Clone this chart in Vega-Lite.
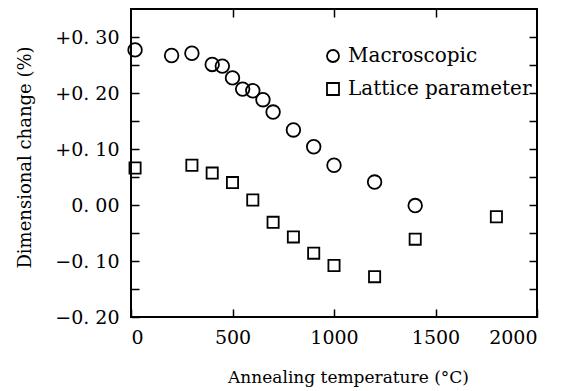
{
  "$schema": "https://vega.github.io/schema/vega-lite/v6.json",
  "autosize": {"type": "none"},
  "width": 406,
  "height": 308,
  "padding": {"left": 131, "top": 9, "right": 30, "bottom": 74},
  "background": "white",
  "config": {
    "view": {"stroke": "black", "strokeWidth": 2},
    "font": "DejaVu Serif",
    "axis": {
      "domain": false,
      "grid": false,
      "tickColor": "black",
      "tickWidth": 1.5,
      "tickSize": -8,
      "labelColor": "black",
      "labelFont": "DejaVu Serif",
      "labelFontSize": 19,
      "titleFont": "DejaVu Serif",
      "titleFontSize": 17,
      "titleFontWeight": "normal",
      "titleColor": "black"
    },
    "legend": {
      "orient": "none",
      "legendX": 192,
      "legendY": 37,
      "symbolSize": 144,
      "symbolStrokeWidth": 1.8,
      "symbolStrokeColor": "black",
      "labelFont": "DejaVu Serif",
      "labelFontSize": 20,
      "labelColor": "black",
      "labelOffset": 5,
      "labelLimit": 400,
      "rowPadding": 13
    }
  },
  "datasets": {
    "pts": [
      {"series": "Macroscopic", "temp": 20, "change": 0.277},
      {"series": "Macroscopic", "temp": 200, "change": 0.267},
      {"series": "Macroscopic", "temp": 300, "change": 0.271},
      {"series": "Macroscopic", "temp": 400, "change": 0.251},
      {"series": "Macroscopic", "temp": 450, "change": 0.248},
      {"series": "Macroscopic", "temp": 500, "change": 0.227},
      {"series": "Macroscopic", "temp": 550, "change": 0.207},
      {"series": "Macroscopic", "temp": 600, "change": 0.204},
      {"series": "Macroscopic", "temp": 650, "change": 0.188},
      {"series": "Macroscopic", "temp": 700, "change": 0.166},
      {"series": "Macroscopic", "temp": 800, "change": 0.134},
      {"series": "Macroscopic", "temp": 900, "change": 0.104},
      {"series": "Macroscopic", "temp": 1000, "change": 0.071},
      {"series": "Macroscopic", "temp": 1200, "change": 0.041},
      {"series": "Macroscopic", "temp": 1400, "change": -0.001},
      {"series": "Lattice parameter", "temp": 20, "change": 0.066},
      {"series": "Lattice parameter", "temp": 300, "change": 0.071},
      {"series": "Lattice parameter", "temp": 400, "change": 0.057},
      {"series": "Lattice parameter", "temp": 500, "change": 0.04},
      {"series": "Lattice parameter", "temp": 600, "change": 0.009},
      {"series": "Lattice parameter", "temp": 700, "change": -0.031},
      {"series": "Lattice parameter", "temp": 800, "change": -0.057},
      {"series": "Lattice parameter", "temp": 900, "change": -0.086},
      {"series": "Lattice parameter", "temp": 1000, "change": -0.108},
      {"series": "Lattice parameter", "temp": 1200, "change": -0.128},
      {"series": "Lattice parameter", "temp": 1400, "change": -0.061},
      {"series": "Lattice parameter", "temp": 1800, "change": -0.021}
    ]
  },
  "layer": [
    {
      "data": {"name": "pts"},
      "transform": [{"filter": "datum.series === 'Macroscopic'"}],
      "mark": {"type": "point", "filled": false, "color": "black", "strokeWidth": 1.8, "opacity": 1, "size": 185},
      "encoding": {
        "x": {
          "field": "temp", "type": "quantitative",
          "scale": {"domain": [0, 2000], "nice": false, "zero": false},
          "axis": {"orient": "bottom", "values": [0, 500, 1000, 1500, 2000], "format": "d", "title": "Annealing temperature (°C)", "labelPadding": 19, "titlePadding": 22, "titleX": 217}
        },
        "y": {
          "field": "change", "type": "quantitative",
          "scale": {"domain": [-0.2, 0.35], "nice": false, "zero": false},
          "axis": {
            "orient": "left",
            "values": [-0.2, -0.15, -0.1, -0.05, 0, 0.05, 0.1, 0.15, 0.2, 0.25, 0.3],
            "labelExpr": "abs(round(datum.value*100)) % 10 != 0 ? '' : (datum.value > 0.001 ? '+' : (datum.value < -0.001 ? '−' : '')) + '0. ' + format(abs(round(datum.value*100)), '02d')",
            "labelPadding": 20,
            "title": "Dimensional change (%)",
            "titleFontSize": 18,
            "titlePadding": 20,
            "titleY": 148
          }
        },
        "shape": {
          "field": "series", "type": "nominal",
          "scale": {"domain": ["Macroscopic", "Lattice parameter"], "range": ["circle", "square"]},
          "legend": {"title": null}
        }
      }
    },
    {
      "data": {"name": "pts"},
      "transform": [{"filter": "datum.series === 'Lattice parameter'"}],
      "mark": {"type": "point", "filled": false, "color": "black", "strokeWidth": 1.8, "opacity": 1, "size": 125},
      "encoding": {
        "x": {
          "field": "temp", "type": "quantitative",
          "scale": {"domain": [0, 2000], "nice": false, "zero": false},
          "axis": {"orient": "top", "values": [500, 1000, 1500], "labels": false, "title": null}
        },
        "y": {
          "field": "change", "type": "quantitative",
          "scale": {"domain": [-0.2, 0.35], "nice": false, "zero": false},
          "axis": {"orient": "right", "values": [-0.15, -0.1, -0.05, 0, 0.05, 0.1, 0.15, 0.2, 0.25, 0.3], "labels": false, "title": null}
        },
        "shape": {"field": "series", "type": "nominal"}
      }
    }
  ],
  "resolve": {"axis": {"x": "independent", "y": "independent"}}
}
